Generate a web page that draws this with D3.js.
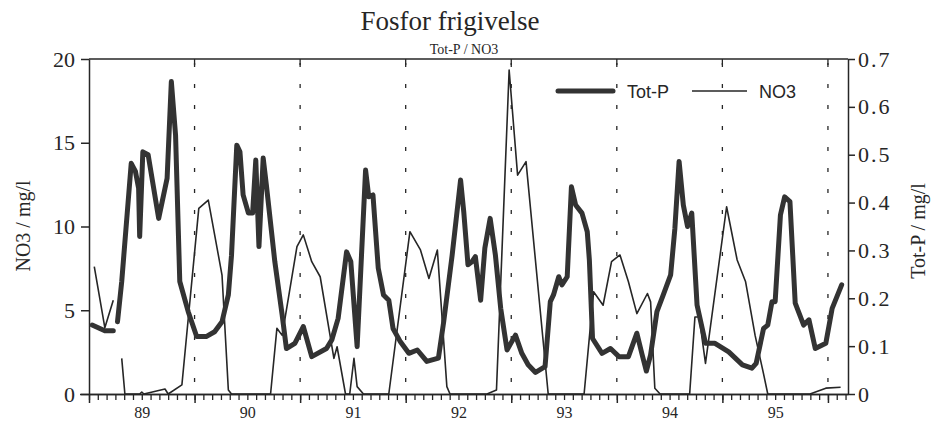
<!DOCTYPE html>
<html><head><meta charset="utf-8">
<script src="https://cdn.jsdelivr.net/npm/d3@7"></script>
<style>body{margin:0;background:#fff}svg{display:block}</style>
</head><body>
<svg id="c" width="932" height="428"></svg>
<script>
// ---- data (decimal year, value); null = gap in the record ----
const tpTime = [1989.03,1989.15,1989.23,null,1989.27,1989.31,1989.40,1989.44,1989.47,1989.48,1989.51,1989.56,1989.66,1989.74,1989.78,1989.82,1989.86,1989.94,1990.02,1990.11,1990.19,1990.26,1990.32,1990.35,1990.40,1990.43,1990.46,1990.51,1990.55,1990.58,1990.61,1990.65,1990.68,1990.76,1990.83,1990.87,1990.95,1991.03,1991.11,1991.25,1991.30,1991.36,1991.44,1991.48,1991.54,1991.62,1991.65,1991.69,1991.74,1991.79,1991.84,1991.88,1991.95,1992.03,1992.11,1992.20,1992.31,1992.36,1992.44,1992.52,1992.55,1992.59,1992.63,1992.66,1992.71,1992.75,1992.80,1992.85,1992.90,1992.96,1993.04,1993.10,1993.16,1993.23,1993.32,1993.37,1993.40,1993.45,1993.48,1993.53,1993.57,1993.61,1993.67,1993.72,1993.74,1993.77,1993.86,1993.94,1994.02,1994.11,1994.19,1994.24,1994.28,1994.32,1994.38,1994.44,1994.51,1994.55,1994.59,1994.63,1994.67,1994.71,1994.76,1994.84,1994.93,1995.06,1995.19,1995.28,1995.32,1995.39,1995.43,1995.47,1995.50,1995.55,1995.59,1995.64,1995.69,1995.77,1995.82,1995.88,1995.98,1996.04,1996.13];
const tpValues = [0.144,0.132,0.132,null,0.151,0.235,0.482,0.465,0.430,0.329,0.506,0.500,0.367,0.451,0.653,0.541,0.235,0.172,0.120,0.120,0.130,0.151,0.207,0.290,0.520,0.506,0.416,0.378,0.378,0.489,0.308,0.493,0.437,0.277,0.165,0.095,0.106,0.141,0.078,0.095,0.113,0.158,0.297,0.277,0.099,0.468,0.412,0.416,0.263,0.207,0.196,0.137,0.109,0.085,0.092,0.068,0.075,0.151,0.290,0.447,0.381,0.270,0.277,0.287,0.196,0.305,0.367,0.290,0.179,0.092,0.123,0.085,0.061,0.045,0.057,0.193,0.207,0.245,0.228,0.245,0.433,0.395,0.378,0.339,0.280,0.116,0.085,0.095,0.078,0.078,0.127,0.082,0.048,0.082,0.172,0.207,0.249,0.346,0.486,0.395,0.350,0.378,0.186,0.106,0.106,0.088,0.061,0.054,0.064,0.137,0.144,0.193,0.193,0.374,0.412,0.402,0.190,0.144,0.155,0.095,0.106,0.179,0.228];

const no3Time = [1989.05,1989.15,1989.23,null,1989.31,1989.34,1989.48,1989.50,1989.52,1989.72,1989.75,1989.88,1990.04,1990.13,1990.26,1990.32,1990.35,1990.72,1990.78,1990.83,1990.97,1991.03,1991.11,1991.19,1991.32,1991.35,1991.43,1991.47,1991.51,1991.54,1991.60,1991.84,1992.04,1992.14,1992.22,1992.30,1992.39,1992.42,1992.77,1992.86,1992.98,1993.06,1993.14,1993.35,1993.69,1993.78,1993.87,1993.95,1994.03,1994.11,1994.19,1994.29,1994.32,1994.36,1994.41,1994.69,1994.74,1994.78,1994.84,1995.04,1995.14,1995.22,1995.31,1995.39,1995.43,1995.83,1995.98,1996.12];
const no3Values = [7.6,3.96,5.6,null,2.13,0,0,0.12,0,0.3,0,0.54,11.08,11.58,7.1,0.24,0,0,3.92,3.5,8.8,9.5,7.9,7.0,2.13,2.82,0,0,2.13,0.44,0,0,9.69,8.6,6.9,8.6,0.44,0,0,0.24,19.34,13.07,13.87,0,0,6.1,5.3,7.9,8.3,6.7,4.8,6.0,5.5,0.34,0,0,4.6,4.6,1.83,11.18,8.0,6.7,3.5,1.2,0,0,0.35,0.4];

const yearBreaks = [1990,1991,1992,1993,1994,1995,1996];
const yearLabels = ["89","90","91","92","93","94","95"];
const leftTicks = [0,5,10,15,20];
const rightTicks = [0,0.1,0.2,0.3,0.4,0.5,0.6,0.7];
const seriesNames = ["Tot-P","NO3"];

// ---- layout ----
const L=89, R=848, T=59, B=394;
const svg = d3.select("#c");
svg.append("rect").attr("width",932).attr("height",428).attr("fill","#fff");
const ink="#262626";
const serif="'Liberation Serif','Times New Roman',serif";
const sans="'Liberation Sans',Arial,sans-serif";

const x = d3.scaleLinear().domain([1989,1996.19]).range([L,R]);
const yL = d3.scaleLinear().domain([0,20]).range([B,T]);
const yR = d3.scaleLinear().domain([0,0.7]).range([B,T]);

// dotted year separators
svg.append("g").selectAll("line").data(yearBreaks).join("line")
  .attr("x1",d=>x(d)).attr("x2",d=>x(d)).attr("y1",T+4).attr("y2",B)
  .attr("stroke",ink).attr("stroke-width",1.3).attr("stroke-dasharray","4,17");

// top frame line + ticks
svg.append("line").attr("x1",L).attr("x2",R).attr("y1",T).attr("y2",T).attr("stroke",ink).attr("stroke-width",1.5);
svg.append("g").selectAll("line").data(yearBreaks).join("line")
  .attr("x1",d=>x(d)).attr("x2",d=>x(d)).attr("y1",T).attr("y2",T+6).attr("stroke",ink).attr("stroke-width",1.3);

// left axis
const gL = svg.append("g").attr("transform",`translate(${L},0)`)
  .call(d3.axisLeft(yL).tickValues(leftTicks).tickSize(8).tickSizeOuter(0).tickPadding(6));
gL.selectAll("path,line").attr("stroke",ink).attr("stroke-width",1.5);
gL.selectAll("text").attr("font-family",serif).attr("font-size",22).attr("fill",ink);

// right axis
const gR = svg.append("g").attr("transform",`translate(${R},0)`)
  .call(d3.axisRight(yR).tickValues(rightTicks).tickSize(7).tickSizeOuter(0).tickPadding(3)
    .tickFormat(d=>d===0?"0":d.toFixed(1)));
gR.selectAll("path,line").attr("stroke",ink).attr("stroke-width",1.5);
gR.selectAll("text").attr("font-family",serif).attr("font-size",22).attr("letter-spacing","2px").attr("fill",ink);

// bottom axis: monthly minor ticks, yearly major ticks
const months = d3.range(0, Math.floor((1996.19-1989)*12)+1).map(i=>1989+i/12);
const gBm = svg.append("g").attr("transform",`translate(0,${B})`)
  .call(d3.axisBottom(x).tickValues(months).tickSize(6).tickSizeOuter(0).tickFormat(""));
gBm.selectAll("path,line").attr("stroke",ink).attr("stroke-width",1.3);
const gBM = svg.append("g").attr("transform",`translate(0,${B})`)
  .call(d3.axisBottom(x).tickValues([1989].concat(yearBreaks)).tickSize(9).tickSizeOuter(0).tickFormat(""));
gBM.selectAll("path,line").attr("stroke",ink).attr("stroke-width",1.5);
gBM.select("path").attr("d",`M${L-9},0.5H${R}`);
const gBL = svg.append("g").attr("transform",`translate(0,${B})`)
  .call(d3.axisBottom(x).tickValues(yearLabels.map((d,i)=>1989.5+i)).tickSize(0).tickPadding(13)
    .tickFormat((d,i)=>yearLabels[i]));
gBL.select("path").remove();
gBL.selectAll("text").attr("font-family",serif).attr("font-size",16).attr("fill",ink);

// lines
const lineNO3 = d3.line().defined((d,i)=>no3Time[i]!==null).x((d,i)=>x(no3Time[i])).y(d=>yL(d));
const lineTP = d3.line().defined((d,i)=>tpTime[i]!==null).x((d,i)=>x(tpTime[i])).y(d=>yR(d));
svg.append("path").attr("d",lineNO3(no3Values)).attr("fill","none").attr("stroke",ink).attr("stroke-width",1.6).attr("stroke-linejoin","round");
svg.append("path").attr("d",lineTP(tpValues)).attr("fill","none").attr("stroke","#333").attr("stroke-width",5).attr("stroke-linejoin","round").attr("stroke-linecap","round");

// legend
const lg = svg.append("g");
lg.append("line").attr("x1",558).attr("x2",613).attr("y1",91).attr("y2",91).attr("stroke","#333").attr("stroke-width",5).attr("stroke-linecap","round");
lg.append("text").attr("x",627).attr("y",98).text(seriesNames[0]).attr("font-family",sans).attr("font-size",18).attr("fill",ink);
lg.append("line").attr("x1",692).attr("x2",747).attr("y1",91).attr("y2",91).attr("stroke",ink).attr("stroke-width",1.6);
lg.append("text").attr("x",759).attr("y",98).text(seriesNames[1]).attr("font-family",sans).attr("font-size",18).attr("fill",ink);

// titles
svg.append("text").attr("x",450).attr("y",30).attr("text-anchor","middle").attr("font-family",serif).attr("font-size",27).attr("fill",ink).text("Fosfor frigivelse");
svg.append("text").attr("x",464).attr("y",54).attr("text-anchor","middle").attr("font-family",serif).attr("font-size",14).attr("fill",ink).text("Tot-P / NO3");
svg.append("text").attr("transform","translate(30,226) rotate(-90)").attr("text-anchor","middle").attr("font-family",serif).attr("font-size",20).attr("fill",ink).text("NO3 / mg/l");
svg.append("text").attr("transform","translate(925,231) rotate(-90)").attr("text-anchor","middle").attr("font-family",serif).attr("font-size",20).attr("fill",ink).text("Tot-P / mg/l");
</script>
</body></html>
